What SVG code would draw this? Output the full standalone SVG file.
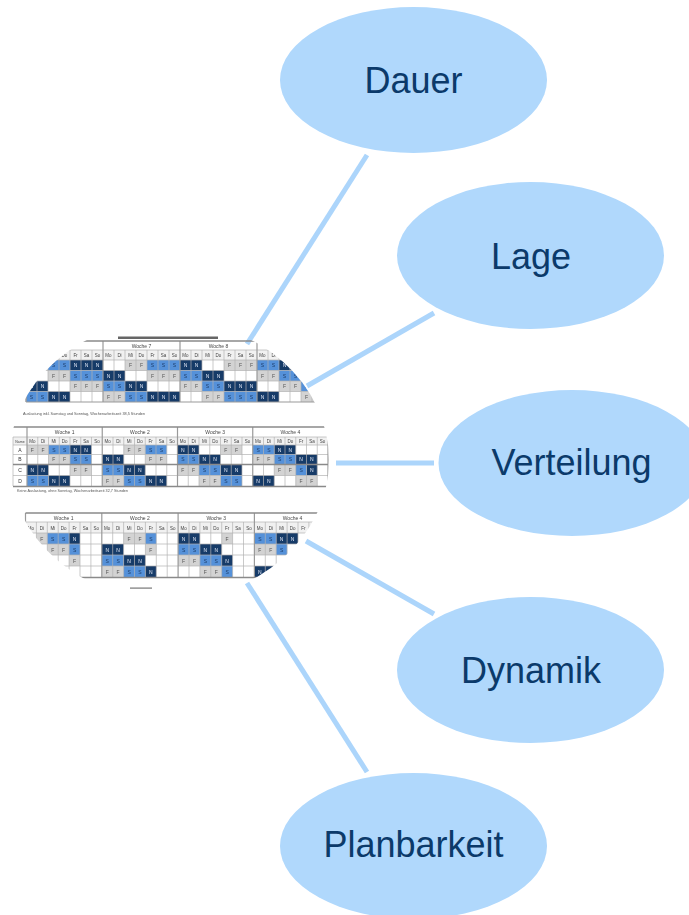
<svg xmlns="http://www.w3.org/2000/svg" width="689" height="915" viewBox="0 0 689 915">
<defs>
<style>
.node{fill:#b0d8fc}
.lbl{font-family:"Liberation Sans",Arial,sans-serif;font-size:36px;fill:#0b3a6a;text-anchor:middle}
.con{stroke:#acd5fb;stroke-width:5;fill:none}
.F{fill:#d3d3d3}.S{fill:#5591d9}.N{fill:#183a68}
.cell,.day,.wk,.cap,.rl{font-family:"Liberation Sans",Arial,sans-serif;text-anchor:middle}
.cell{font-size:5px}
.tF{fill:#555}.tS{fill:#1d3d6a}.tN{fill:#dfe8f5}
.day{font-size:4.5px;fill:#444}.wk{font-size:5px;fill:#444}.rl{font-size:5px;fill:#333}
.cap{font-size:4.2px;fill:#555;text-anchor:start}
.grid{stroke:#b3b3b3;stroke-width:0.7;fill:none}
.wkl{stroke:#9a9a9a;stroke-width:1.2;fill:none}
.thk{stroke:#8a8a8a;stroke-width:1.5;fill:none}
.dayrow{fill:#f1f1f1}
</style>
<clipPath id="clip"><ellipse cx="169" cy="460" rx="160" ry="140"/></clipPath>
<filter id="soft" x="-5%" y="-5%" width="110%" height="110%"><feGaussianBlur stdDeviation="0.5"/></filter>
</defs>
<rect width="689" height="915" fill="#ffffff"/>

<g id="connectors">
<line class="con" x1="367" y1="155" x2="247" y2="344"/>
<line class="con" x1="434" y1="313" x2="307" y2="386"/>
<line class="con" x1="336" y1="463" x2="434" y2="463"/>
<line class="con" x1="306" y1="541" x2="434" y2="614"/>
<line class="con" x1="247" y1="583" x2="367" y2="772"/>
</g>

<g id="schedule-image" clip-path="url(#clip)" filter="url(#soft)">
<rect x="118" y="336.5" width="100" height="2.5" fill="#666"/>
<g id="table1">
<rect x="26" y="350" width="308" height="10" class="dayrow"/>
<rect x="26" y="360" width="22" height="10.5" class="F"/><rect x="125" y="360" width="22" height="10.5" class="F"/><rect x="224" y="360" width="33" height="10.5" class="F"/>
<rect x="48" y="360" width="22" height="10.5" class="S"/><rect x="147" y="360" width="33" height="10.5" class="S"/><rect x="257" y="360" width="22" height="10.5" class="S"/>
<rect x="70" y="360" width="33" height="10.5" class="N"/><rect x="180" y="360" width="22" height="10.5" class="N"/><rect x="279" y="360" width="22" height="10.5" class="N"/>
<rect x="48" y="370.5" width="22" height="10.5" class="F"/><rect x="147" y="370.5" width="33" height="10.5" class="F"/><rect x="257" y="370.5" width="22" height="10.5" class="F"/>
<rect x="70" y="370.5" width="33" height="10.5" class="S"/><rect x="180" y="370.5" width="22" height="10.5" class="S"/><rect x="279" y="370.5" width="22" height="10.5" class="S"/>
<rect x="103" y="370.5" width="22" height="10.5" class="N"/><rect x="202" y="370.5" width="22" height="10.5" class="N"/><rect x="301" y="370.5" width="33" height="10.5" class="N"/>
<rect x="70" y="381" width="33" height="10.5" class="F"/><rect x="180" y="381" width="22" height="10.5" class="F"/><rect x="279" y="381" width="22" height="10.5" class="F"/>
<rect x="103" y="381" width="22" height="10.5" class="S"/><rect x="202" y="381" width="22" height="10.5" class="S"/><rect x="301" y="381" width="33" height="10.5" class="S"/>
<rect x="26" y="381" width="22" height="10.5" class="N"/><rect x="125" y="381" width="22" height="10.5" class="N"/><rect x="224" y="381" width="33" height="10.5" class="N"/>
<rect x="103" y="391.5" width="22" height="10.5" class="F"/><rect x="202" y="391.5" width="22" height="10.5" class="F"/><rect x="301" y="391.5" width="33" height="10.5" class="F"/>
<rect x="26" y="391.5" width="22" height="10.5" class="S"/><rect x="125" y="391.5" width="22" height="10.5" class="S"/><rect x="224" y="391.5" width="33" height="10.5" class="S"/>
<rect x="48" y="391.5" width="22" height="10.5" class="N"/><rect x="147" y="391.5" width="33" height="10.5" class="N"/><rect x="257" y="391.5" width="22" height="10.5" class="N"/>
<path class="grid" d="M26 350V402M37 350V402M48 350V402M59 350V402M70 350V402M81 350V402M92 350V402M114 350V402M125 350V402M136 350V402M147 350V402M158 350V402M169 350V402M191 350V402M202 350V402M213 350V402M224 350V402M235 350V402M246 350V402M268 350V402M279 350V402M290 350V402M301 350V402M312 350V402M323 350V402M26 350H334M26 360H334M26 370.5H334M26 381H334M26 391.5H334"/>
<path class="wkl" d="M26 341V402M103 341V402M180 341V402M257 341V402M334 341V402M26 402H334"/>
<path class="thk" d="M26 341H334"/>
<text class="wk" y="348"><tspan x="141.5">Woche 7</tspan><tspan x="218.5">Woche 8</tspan></text>
<text class="day" y="357"><tspan x="64.5">Do</tspan><tspan x="75.5">Fr</tspan><tspan x="86.5">Sa</tspan><tspan x="97.5">So</tspan><tspan x="108.5">Mo</tspan><tspan x="119.5">Di</tspan><tspan x="130.5">Mi</tspan><tspan x="141.5">Do</tspan><tspan x="152.5">Fr</tspan><tspan x="163.5">Sa</tspan><tspan x="174.5">So</tspan><tspan x="185.5">Mo</tspan><tspan x="196.5">Di</tspan><tspan x="207.5">Mi</tspan><tspan x="218.5">Do</tspan><tspan x="229.5">Fr</tspan><tspan x="240.5">Sa</tspan><tspan x="251.5">So</tspan><tspan x="262.5">Mo</tspan><tspan x="273.5">Di</tspan><tspan x="284.5">Mi</tspan><tspan x="295.5">Do</tspan></text>
<text class="cell" y="367"><tspan class="tF" x="31.5 42.5">FF</tspan><tspan class="tS" x="53.5 64.5">SS</tspan><tspan class="tN" x="75.5 86.5 97.5">NNN</tspan><tspan class="tF" x="130.5 141.5">FF</tspan><tspan class="tS" x="152.5 163.5 174.5">SSS</tspan><tspan class="tN" x="185.5 196.5">NN</tspan><tspan class="tF" x="229.5 240.5 251.5">FFF</tspan><tspan class="tS" x="262.5 273.5">SS</tspan><tspan class="tN" x="284.5 295.5">NN</tspan></text>
<text class="cell" y="377.5"><tspan class="tF" x="53.5 64.5">FF</tspan><tspan class="tS" x="75.5 86.5 97.5">SSS</tspan><tspan class="tN" x="108.5 119.5">NN</tspan><tspan class="tF" x="152.5 163.5 174.5">FFF</tspan><tspan class="tS" x="185.5 196.5">SS</tspan><tspan class="tN" x="207.5 218.5">NN</tspan><tspan class="tF" x="262.5 273.5">FF</tspan><tspan class="tS" x="284.5 295.5">SS</tspan><tspan class="tN" x="306.5 317.5 328.5">NNN</tspan></text>
<text class="cell" y="388"><tspan class="tN" x="31.5 42.5">NN</tspan><tspan class="tF" x="75.5 86.5 97.5">FFF</tspan><tspan class="tS" x="108.5 119.5">SS</tspan><tspan class="tN" x="130.5 141.5">NN</tspan><tspan class="tF" x="185.5 196.5">FF</tspan><tspan class="tS" x="207.5 218.5">SS</tspan><tspan class="tN" x="229.5 240.5 251.5">NNN</tspan><tspan class="tF" x="284.5 295.5">FF</tspan><tspan class="tS" x="306.5 317.5 328.5">SSS</tspan></text>
<text class="cell" y="398.5"><tspan class="tS" x="31.5 42.5">SS</tspan><tspan class="tN" x="53.5 64.5">NN</tspan><tspan class="tF" x="108.5 119.5">FF</tspan><tspan class="tS" x="130.5 141.5">SS</tspan><tspan class="tN" x="152.5 163.5 174.5">NNN</tspan><tspan class="tF" x="207.5 218.5">FF</tspan><tspan class="tS" x="229.5 240.5 251.5">SSS</tspan><tspan class="tN" x="262.5 273.5">NN</tspan><tspan class="tF" x="306.5 317.5 328.5">FFF</tspan></text>
<text class="cap" x="23" y="415" textLength="122" lengthAdjust="spacingAndGlyphs">Auslastung inkl. Samstag und Sonntag, Wochenarbeitszeit 38,5 Stunden</text>
</g>
<g id="table2">
<rect x="13" y="437" width="315" height="8" class="dayrow"/>
<rect x="27" y="445" width="21.5" height="9.5" class="F"/><rect x="123.75" y="445" width="21.5" height="9.5" class="F"/><rect x="220.5" y="445" width="21.5" height="9.5" class="F"/>
<rect x="48.5" y="445" width="21.5" height="9.5" class="S"/><rect x="145.25" y="445" width="21.5" height="9.5" class="S"/><rect x="252.75" y="445" width="21.5" height="9.5" class="S"/>
<rect x="70" y="445" width="21.5" height="9.5" class="N"/><rect x="177.5" y="445" width="21.5" height="9.5" class="N"/><rect x="274.25" y="445" width="21.5" height="9.5" class="N"/>
<rect x="48.5" y="454.5" width="21.5" height="9.5" class="F"/><rect x="145.25" y="454.5" width="21.5" height="9.5" class="F"/><rect x="252.75" y="454.5" width="21.5" height="9.5" class="F"/>
<rect x="70" y="454.5" width="21.5" height="9.5" class="S"/><rect x="177.5" y="454.5" width="21.5" height="9.5" class="S"/><rect x="274.25" y="454.5" width="21.5" height="9.5" class="S"/>
<rect x="102.25" y="454.5" width="21.5" height="9.5" class="N"/><rect x="199" y="454.5" width="21.5" height="9.5" class="N"/><rect x="295.75" y="454.5" width="21.5" height="9.5" class="N"/>
<rect x="27" y="465" width="21.5" height="10.5" class="N"/><rect x="123.75" y="465" width="21.5" height="10.5" class="N"/><rect x="220.5" y="465" width="21.5" height="10.5" class="N"/><rect x="306.5" y="465" width="10.75" height="10.5" class="N"/>
<rect x="70" y="465" width="21.5" height="10.5" class="F"/><rect x="177.5" y="465" width="21.5" height="10.5" class="F"/><rect x="274.25" y="465" width="21.5" height="10.5" class="F"/>
<rect x="102.25" y="465" width="21.5" height="10.5" class="S"/><rect x="199" y="465" width="21.5" height="10.5" class="S"/><rect x="295.75" y="465" width="10.75" height="10.5" class="S"/>
<rect x="27" y="475.5" width="21.5" height="10.5" class="S"/><rect x="123.75" y="475.5" width="21.5" height="10.5" class="S"/><rect x="220.5" y="475.5" width="21.5" height="10.5" class="S"/>
<rect x="48.5" y="475.5" width="21.5" height="10.5" class="N"/><rect x="145.25" y="475.5" width="21.5" height="10.5" class="N"/><rect x="252.75" y="475.5" width="21.5" height="10.5" class="N"/>
<rect x="102.25" y="475.5" width="21.5" height="10.5" class="F"/><rect x="199" y="475.5" width="21.5" height="10.5" class="F"/><rect x="295.75" y="475.5" width="21.5" height="10.5" class="F"/>
<path class="grid" d="M13 437V486M37.75 437V486M48.5 437V486M59.25 437V486M70 437V486M80.75 437V486M91.5 437V486M113 437V486M123.75 437V486M134.5 437V486M145.25 437V486M156 437V486M166.75 437V486M188.25 437V486M199 437V486M209.75 437V486M220.5 437V486M231.25 437V486M242 437V486M263.5 437V486M274.25 437V486M285 437V486M295.75 437V486M306.5 437V486M317.25 437V486M13 437H328M13 445H328M13 454.5H328M13 475.5H328"/>
<path class="wkl" d="M27 427V486M102.25 427V486M177.5 427V486M252.75 427V486M328 427V486"/>
<path class="thk" d="M13 427H328M13 464.5H328M13 486.5H328"/>
<text class="wk" y="434"><tspan x="64.6">Woche 1</tspan><tspan x="139.9">Woche 2</tspan><tspan x="215.1">Woche 3</tspan><tspan x="290.4">Woche 4</tspan></text>
<text class="day" y="443"><tspan x="20" style="font-size:3.5px">Name</tspan><tspan x="32.4">Mo</tspan><tspan x="43.1">Di</tspan><tspan x="53.9">Mi</tspan><tspan x="64.6">Do</tspan><tspan x="75.4">Fr</tspan><tspan x="86.1">Sa</tspan><tspan x="96.9">So</tspan><tspan x="107.6">Mo</tspan><tspan x="118.4">Di</tspan><tspan x="129.1">Mi</tspan><tspan x="139.9">Do</tspan><tspan x="150.6">Fr</tspan><tspan x="161.4">Sa</tspan><tspan x="172.1">So</tspan><tspan x="182.9">Mo</tspan><tspan x="193.6">Di</tspan><tspan x="204.4">Mi</tspan><tspan x="215.1">Do</tspan><tspan x="225.9">Fr</tspan><tspan x="236.6">Sa</tspan><tspan x="247.4">So</tspan><tspan x="258.1">Mo</tspan><tspan x="268.9">Di</tspan><tspan x="279.6">Mi</tspan><tspan x="290.4">Do</tspan><tspan x="301.1">Fr</tspan><tspan x="311.9">Sa</tspan><tspan x="322.6">So</tspan></text>
<text class="cell" y="451.5"><tspan class="rl" x="20">A</tspan><tspan class="tF" x="32.4 43.1">FF</tspan><tspan class="tS" x="53.9 64.6">SS</tspan><tspan class="tN" x="75.4 86.1">NN</tspan><tspan class="tF" x="129.1 139.9">FF</tspan><tspan class="tS" x="150.6 161.4">SS</tspan><tspan class="tN" x="182.9 193.6">NN</tspan><tspan class="tF" x="225.9 236.6">FF</tspan><tspan class="tS" x="258.1 268.9">SS</tspan><tspan class="tN" x="279.6 290.4">NN</tspan></text>
<text class="cell" y="461"><tspan class="rl" x="20">B</tspan><tspan class="tF" x="53.9 64.6">FF</tspan><tspan class="tS" x="75.4 86.1">SS</tspan><tspan class="tN" x="107.6 118.4">NN</tspan><tspan class="tF" x="150.6 161.4">FF</tspan><tspan class="tS" x="182.9 193.6">SS</tspan><tspan class="tN" x="204.4 215.1">NN</tspan><tspan class="tF" x="258.1 268.9">FF</tspan><tspan class="tS" x="279.6 290.4">SS</tspan><tspan class="tN" x="301.1 311.9">NN</tspan></text>
<text class="cell" y="472"><tspan class="rl" x="20">C</tspan><tspan class="tN" x="32.4 43.1">NN</tspan><tspan class="tF" x="75.4 86.1">FF</tspan><tspan class="tS" x="107.6 118.4">SS</tspan><tspan class="tN" x="129.1 139.9">NN</tspan><tspan class="tF" x="182.9 193.6">FF</tspan><tspan class="tS" x="204.4 215.1">SS</tspan><tspan class="tN" x="225.9 236.6">NN</tspan><tspan class="tF" x="279.6 290.4">FF</tspan><tspan class="tS" x="301.1">S</tspan><tspan class="tN" x="311.9">N</tspan></text>
<text class="cell" y="482.5"><tspan class="rl" x="20">D</tspan><tspan class="tS" x="32.4 43.1">SS</tspan><tspan class="tN" x="53.9 64.6">NN</tspan><tspan class="tF" x="107.6 118.4">FF</tspan><tspan class="tS" x="129.1 139.9">SS</tspan><tspan class="tN" x="150.6 161.4">NN</tspan><tspan class="tF" x="204.4 215.1">FF</tspan><tspan class="tS" x="225.9 236.6">SS</tspan><tspan class="tN" x="258.1 268.9">NN</tspan><tspan class="tF" x="301.1 311.9">FF</tspan></text>
<text class="cap" x="17" y="492" textLength="111" lengthAdjust="spacingAndGlyphs">Keine Auslastung, ohne Sonntag, Wochenarbeitszeit 32,7 Stunden</text>
</g>
<g id="table3">
<rect x="25.5" y="522" width="305.2" height="11" class="dayrow"/>
<rect x="36.4" y="533" width="10.9" height="11" class="F"/><rect x="123.6" y="533" width="21.8" height="11" class="F"/><rect x="221.7" y="533" width="10.9" height="11" class="F"/>
<rect x="47.3" y="533" width="21.8" height="11" class="S"/><rect x="145.4" y="533" width="10.9" height="11" class="S"/><rect x="254.4" y="533" width="21.8" height="11" class="S"/>
<rect x="69.1" y="533" width="10.9" height="11" class="N"/><rect x="178.1" y="533" width="21.8" height="11" class="N"/><rect x="276.2" y="533" width="21.8" height="11" class="N"/>
<rect x="47.3" y="544" width="21.8" height="11" class="F"/><rect x="145.4" y="544" width="10.9" height="11" class="F"/><rect x="254.4" y="544" width="21.8" height="11" class="F"/>
<rect x="69.1" y="544" width="10.9" height="11" class="S"/><rect x="178.1" y="544" width="21.8" height="11" class="S"/><rect x="276.2" y="544" width="10.9" height="11" class="S"/>
<rect x="101.8" y="544" width="21.8" height="11" class="N"/><rect x="199.9" y="544" width="21.8" height="11" class="N"/>
<rect x="69.1" y="555" width="10.9" height="11" class="F"/><rect x="178.1" y="555" width="21.8" height="11" class="F"/>
<rect x="101.8" y="555" width="21.8" height="11" class="S"/><rect x="199.9" y="555" width="21.8" height="11" class="S"/>
<rect x="123.6" y="555" width="21.8" height="11" class="N"/><rect x="221.7" y="555" width="10.9" height="11" class="N"/>
<rect x="101.8" y="566" width="21.8" height="11" class="F"/><rect x="199.9" y="566" width="21.8" height="11" class="F"/>
<rect x="123.6" y="566" width="21.8" height="11" class="S"/><rect x="221.7" y="566" width="10.9" height="11" class="S"/>
<rect x="145.4" y="566" width="10.9" height="11" class="N"/><rect x="254.4" y="566" width="21.8" height="11" class="N"/>
<path class="grid" d="M36.4 522V577M47.3 522V577M58.2 522V577M69.1 522V577M80 522V577M90.9 522V577M112.7 522V577M123.6 522V577M134.5 522V577M145.4 522V577M156.3 522V577M167.2 522V577M189 522V577M199.9 522V577M210.8 522V577M221.7 522V577M232.6 522V577M243.5 522V577M265.3 522V577M276.2 522V577M287.1 522V577M298 522V577M308.9 522V577M319.8 522V577M25.5 522H330.7M25.5 533H330.7M25.5 544H330.7M25.5 555H330.7M25.5 566H330.7"/>
<path class="wkl" d="M25.5 513V577M101.8 513V577M178.1 513V577M254.4 513V577M330.7 513V577"/>
<path class="thk" d="M25.5 513H330.7M25.5 577.5H330.7"/>
<text class="wk" y="520"><tspan x="63.65">Woche 1</tspan><tspan x="139.95">Woche 2</tspan><tspan x="216.25">Woche 3</tspan><tspan x="292.55">Woche 4</tspan></text>
<text class="day" y="529.5"><tspan x="30.95">Mo</tspan><tspan x="41.85">Di</tspan><tspan x="52.75">Mi</tspan><tspan x="63.65">Do</tspan><tspan x="74.55">Fr</tspan><tspan x="85.45">Sa</tspan><tspan x="96.35">So</tspan><tspan x="107.25">Mo</tspan><tspan x="118.15">Di</tspan><tspan x="129.05">Mi</tspan><tspan x="139.95">Do</tspan><tspan x="150.85">Fr</tspan><tspan x="161.75">Sa</tspan><tspan x="172.65">So</tspan><tspan x="183.55">Mo</tspan><tspan x="194.45">Di</tspan><tspan x="205.35">Mi</tspan><tspan x="216.25">Do</tspan><tspan x="227.15">Fr</tspan><tspan x="238.05">Sa</tspan><tspan x="248.95">So</tspan><tspan x="259.85">Mo</tspan><tspan x="270.75">Di</tspan><tspan x="281.65">Mi</tspan><tspan x="292.55">Do</tspan><tspan x="303.45">Fr</tspan><tspan x="314.35">Sa</tspan></text>
<text class="cell" y="540.5"><tspan class="tF" x="41.85">F</tspan><tspan class="tS" x="52.75 63.65">SS</tspan><tspan class="tN" x="74.55">N</tspan><tspan class="tF" x="129.05 139.95">FF</tspan><tspan class="tS" x="150.85">S</tspan><tspan class="tN" x="183.55 194.45">NN</tspan><tspan class="tF" x="227.15">F</tspan><tspan class="tS" x="259.85 270.75">SS</tspan><tspan class="tN" x="281.65 292.55">NN</tspan></text>
<text class="cell" y="551.5"><tspan class="tF" x="52.75 63.65">FF</tspan><tspan class="tS" x="74.55">S</tspan><tspan class="tN" x="107.25 118.15">NN</tspan><tspan class="tF" x="150.85">F</tspan><tspan class="tS" x="183.55 194.45">SS</tspan><tspan class="tN" x="205.35 216.25">NN</tspan><tspan class="tF" x="259.85 270.75">FF</tspan><tspan class="tS" x="281.65">S</tspan></text>
<text class="cell" y="562.5"><tspan class="tF" x="74.55">F</tspan><tspan class="tS" x="107.25 118.15">SS</tspan><tspan class="tN" x="129.05 139.95">NN</tspan><tspan class="tF" x="183.55 194.45">FF</tspan><tspan class="tS" x="205.35 216.25">SS</tspan><tspan class="tN" x="227.15">N</tspan></text>
<text class="cell" y="573.5"><tspan class="tF" x="107.25 118.15">FF</tspan><tspan class="tS" x="129.05 139.95">SS</tspan><tspan class="tN" x="150.85">N</tspan><tspan class="tF" x="205.35 216.25">FF</tspan><tspan class="tS" x="227.15">S</tspan><tspan class="tN" x="259.85">N</tspan></text>
</g>
<rect x="130" y="587.5" width="22" height="1.2" fill="#777"/>
</g>

<g id="node-dauer"><ellipse class="node" cx="413.5" cy="80" rx="133.5" ry="73"/><text class="lbl" x="413.5" y="93">Dauer</text></g>
<g id="node-lage"><ellipse class="node" cx="530.5" cy="255.5" rx="133.5" ry="73.5"/><text class="lbl" x="531" y="268.5">Lage</text></g>
<g id="node-verteilung"><ellipse class="node" cx="572" cy="463" rx="133.5" ry="73"/><text class="lbl" x="571.5" y="475">Verteilung</text></g>
<g id="node-dynamik"><ellipse class="node" cx="530.5" cy="670" rx="133.5" ry="73"/><text class="lbl" x="531" y="683">Dynamik</text></g>
<g id="node-planbarkeit"><ellipse class="node" cx="413.5" cy="846" rx="133.5" ry="73"/><text class="lbl" x="413.5" y="857">Planbarkeit</text></g>
</svg>
